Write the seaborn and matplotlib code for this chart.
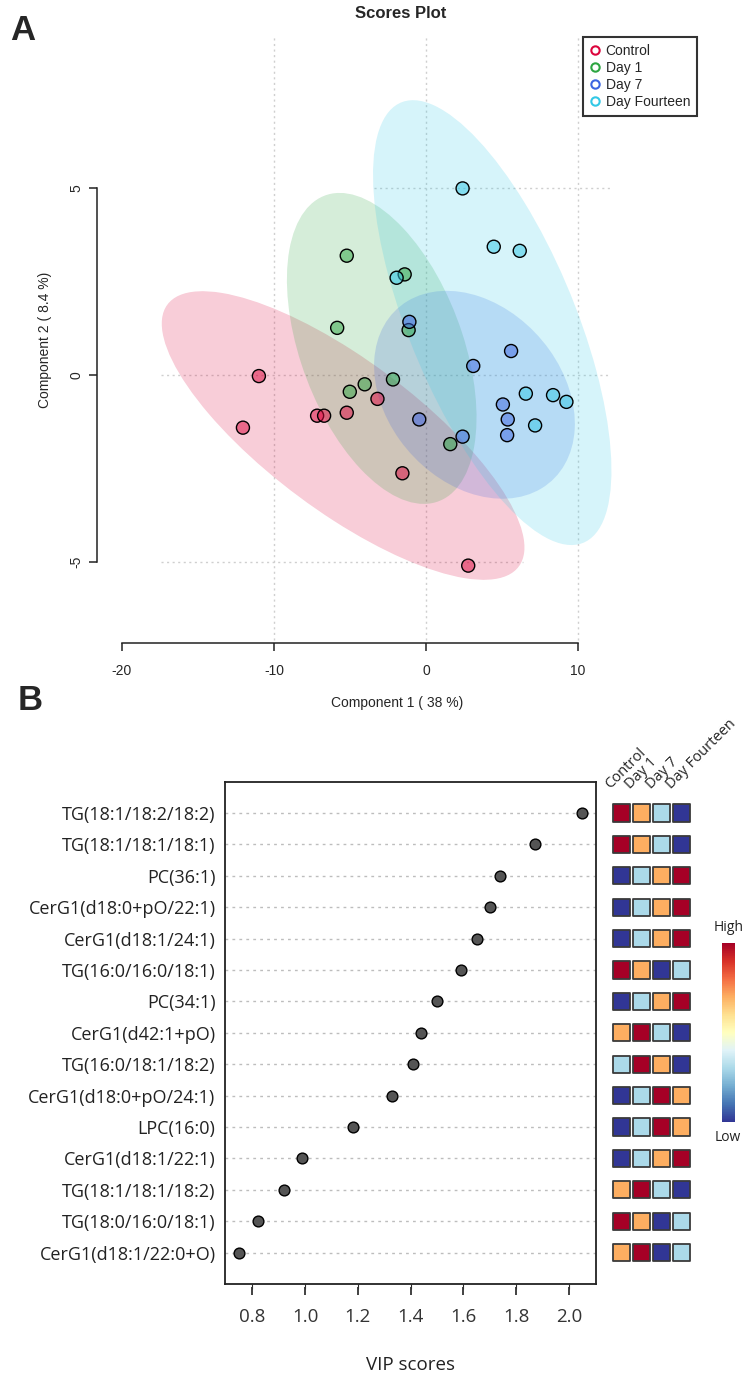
import numpy as np
import pandas as pd
import matplotlib
matplotlib.use("Agg")
import matplotlib.pyplot as plt
import seaborn as sns
from matplotlib.patches import Ellipse
from matplotlib.lines import Line2D
from matplotlib.colors import Normalize
from matplotlib.cm import ScalarMappable

# ---------------- data: panel A (PLS-DA scores) ----------------
groups = ["Control", "Day 1", "Day 7", "Day Fourteen"]
group_colors = ["#DC053C", "#2DA541", "#3C64E1", "#32C8E6"]

control_x = [-10.99, -12.04, -7.16, -6.70, -5.21, -3.19, -1.55, 2.78]
control_y = [-0.03, -1.41, -1.09, -1.09, -1.01, -0.64, -2.63, -5.10]
day1_x = [-5.21, -1.40, -5.84, -1.14, -4.03, -5.01, -2.17, 1.60]
day1_y = [3.19, 2.69, 1.26, 1.20, -0.25, -0.45, -0.12, -1.85]
day7_x = [-1.09, 5.60, 3.11, 5.06, 5.38, -0.44, 5.34, 2.41]
day7_y = [1.42, 0.64, 0.24, -0.79, -1.19, -1.19, -1.61, -1.65]
day14_x = [2.41, 4.46, 6.17, -1.93, 6.57, 8.36, 9.24, 7.18]
day14_y = [4.99, 3.43, 3.32, 2.60, -0.50, -0.54, -0.72, -1.35]

# confidence ellipses: centre and shape matrix [[sxx, sxy], [sxy, syy]]
ell_cx = [-5.45, -2.91, 3.19, 4.36]
ell_cy = [-1.62, 0.71, -0.53, 1.40]
ell_sxx = [142.3, 38.9, 43.6, 61.5]
ell_sxy = [-35.7, -11.5, -5.1, -31.0]
ell_syy = [14.9, 17.3, 7.73, 35.4]

x_ticks_a = [-20, -10, 0, 10]
y_ticks_a = [-5, 0, 5]

# ---------------- data: panel B (VIP scores) ----------------
features = ["TG(18:1/18:2/18:2)", "TG(18:1/18:1/18:1)", "PC(36:1)",
            "CerG1(d18:0+pO/22:1)", "CerG1(d18:1/24:1)", "TG(16:0/16:0/18:1)",
            "PC(34:1)", "CerG1(d42:1+pO)", "TG(16:0/18:1/18:2)",
            "CerG1(d18:0+pO/24:1)", "LPC(16:0)", "CerG1(d18:1/22:1)",
            "TG(18:1/18:1/18:2)", "TG(18:0/16:0/18:1)", "CerG1(d18:1/22:0+O)"]
vip_scores = [2.05, 1.87, 1.74, 1.70, 1.65, 1.59, 1.50, 1.44, 1.41, 1.33,
              1.18, 0.99, 0.92, 0.82, 0.75]
# relative level (4 = High ... 1 = Low) per group
heat_control = [4, 4, 1, 1, 1, 4, 1, 3, 2, 1, 1, 1, 3, 4, 3]
heat_day1 = [3, 3, 2, 2, 2, 3, 2, 4, 4, 2, 2, 2, 4, 3, 4]
heat_day7 = [2, 2, 3, 3, 3, 1, 3, 2, 3, 4, 4, 3, 2, 1, 1]
heat_day14 = [1, 1, 4, 4, 4, 2, 4, 1, 1, 3, 3, 4, 1, 2, 2]
level_colors = {4: "#A50026", 3: "#FDAE61", 2: "#ABD9E9", 1: "#313695"}
vip_ticks = [0.8, 1.0, 1.2, 1.4, 1.6, 1.8, 2.0]

# ---------------- figure ----------------
sns.set_style("white")
plt.rcParams["font.family"] = ["Liberation Sans", "DejaVu Sans"]

W, H = 755, 1384
fig = plt.figure(figsize=(W / 100, H / 100), dpi=100)


def fx(px):
    return px / W


def fy(py):
    return 1 - py / H


SANS_A = ["Liberation Sans", "DejaVu Sans"]
SANS_B = ["Open Sans", "DejaVu Sans"]

# ======== Panel A ========
ax = fig.add_axes([fx(97), fy(643), 600 / W, 606 / H])
ax.set_xlim(-21.64, 17.83)
ax.set_ylim(-7.17, 9.04)

grid_kw = dict(color="#CFCFCF", linestyles=(0, (1.5, 2.5)), linewidth=1.0, zorder=0.5)
ax.vlines([-10, 0, 10], -7.1, 9.04, **grid_kw)
ax.hlines(5, -3.4, 12.2, **grid_kw)
ax.hlines(0, -17.4, 12.2, **grid_kw)
ax.hlines(-5, -17.4, 6.4, **grid_kw)

for cx, cy, sxx, sxy, syy, col in zip(ell_cx, ell_cy, ell_sxx, ell_sxy, ell_syy, group_colors):
    vals, vecs = np.linalg.eigh(np.array([[sxx, sxy], [sxy, syy]]))
    order = np.argsort(vals)[::-1]
    vals, vecs = vals[order], vecs[:, order]
    ang = np.degrees(np.arctan2(vecs[1, 0], vecs[0, 0]))
    ax.add_patch(Ellipse((cx, cy), 2 * np.sqrt(vals[0]), 2 * np.sqrt(vals[1]),
                         angle=ang, facecolor=col, alpha=0.2, edgecolor="none", zorder=1))

scores = pd.DataFrame({
    "Component 1": control_x + day1_x + day7_x + day14_x,
    "Component 2": control_y + day1_y + day7_y + day14_y,
    "Group": np.repeat(groups, [len(control_x), len(day1_x), len(day7_x), len(day14_x)]),
})
fill_palette = {g: c + "80" for g, c in zip(groups, group_colors)}
sns.scatterplot(data=scores, x="Component 1", y="Component 2", hue="Group",
                palette=fill_palette, s=88, edgecolor="black", linewidth=1.0,
                legend=False, ax=ax, zorder=3)

for side in ["top", "right"]:
    ax.spines[side].set_visible(False)
for side in ["left", "bottom"]:
    ax.spines[side].set_color("#222222")
    ax.spines[side].set_linewidth(1.1)
ax.spines["bottom"].set_bounds(-20, 10)
ax.spines["left"].set_bounds(-5, 5)
ax.set_xticks(x_ticks_a)
ax.set_xticklabels([str(v) for v in x_ticks_a], fontsize=10, family=SANS_A)
ax.set_yticks(y_ticks_a)
ax.set_yticklabels([str(v) for v in y_ticks_a], fontsize=10, family=SANS_A,
                   rotation=90, va="center")
ax.tick_params(axis="x", direction="out", length=6, width=1.1, color="#222222", pad=9, bottom=True)
ax.tick_params(axis="y", direction="out", length=6, width=1.1, color="#222222", pad=4, left=True)
ax.set_xlabel("Component 1 ( 38 %)", fontsize=10, family=SANS_A)
ax.set_ylabel("Component 2 ( 8.4 %)", fontsize=10, family=SANS_A)
ax.xaxis.set_label_coords(0.5, (643 - 703) / 606)
ax.xaxis.label.set_va("center")
ax.yaxis.set_label_coords((45 - 97) / 600, 0.5)
ax.yaxis.label.set_va("center")

handles = [Line2D([], [], marker="o", linestyle="", markerfacecolor="none",
                  markeredgecolor=c, markersize=6, markeredgewidth=1.5) for c in group_colors]
leg = ax.legend(handles, groups, loc="upper right", bbox_to_anchor=(1.0, 1.0),
                borderaxespad=0, frameon=True, fancybox=False, edgecolor="black",
                handletextpad=0.4, labelspacing=0.22, handlelength=0.7,
                borderpad=0.5, prop={"family": SANS_A, "size": 10})
leg.get_frame().set_linewidth(1.5)

fig.text(fx(401), fy(13), "Scores Plot", fontsize=12, fontweight="bold",
         family=SANS_A, ha="center", va="center")
fig.text(fx(10), fy(30), "A", fontsize=25, fontweight="bold", family=SANS_A,
         ha="left", va="center")
fig.text(fx(18), fy(700), "B", fontsize=25, fontweight="bold", family=SANS_A,
         ha="left", va="center")

# ======== Panel B: VIP dot chart ========
n = len(features)
pos = list(range(n, 0, -1))
vip_df = pd.DataFrame({"Feature": features, "VIP": vip_scores, "pos": pos})

box_top, box_bot = 781.6, 1284.0
axb = fig.add_axes([fx(225.3), fy(box_bot), (596 - 225.3) / W, (box_bot - box_top) / H])
rng = max(vip_scores) - min(vip_scores)
xlo, xhi = min(vip_scores) - 0.04 * rng, max(vip_scores) + 0.04 * rng
axb.set_xlim(xlo, xhi)
axb.set_ylim(0, n + 1)
axb.set_yticks(pos)
axb.set_yticklabels(features, fontsize=13, family=SANS_B, color="#222222")
axb.tick_params(axis="y", length=0, pad=7)
axb.tick_params(axis="x", bottom=False, labelbottom=False)
axb.grid(axis="y", color="#BDBDBD", linestyle=(0, (2, 3)), linewidth=1.0)
axb.grid(axis="x", visible=False)
sns.scatterplot(data=vip_df, x="VIP", y="pos", color="#555555", edgecolor="black",
                s=60, linewidth=1.0, ax=axb, zorder=3, legend=False)
axb.set_xlabel("")
axb.set_ylabel("")
for s in axb.spines.values():
    s.set_visible(True)
    s.set_color("#222222")
    s.set_linewidth(1.3)

axt = axb.twiny()
axt.set_xlim(xlo, xhi)
axt.xaxis.set_ticks_position("bottom")
axt.xaxis.set_label_position("bottom")
axt.spines["bottom"].set_position(("outward", 2.5))
for s in axt.spines.values():
    s.set_visible(False)
axt.set_xticks(vip_ticks)
axt.set_xticklabels([f"{v:.1f}" for v in vip_ticks], fontsize=13.5, family=SANS_B,
                    color="#333333")
axt.tick_params(axis="x", bottom=True, top=False, labeltop=False, direction="out",
                length=6, width=1.3, color="#333333", pad=9)
axt.set_xlabel("VIP scores", fontsize=13.5, family=SANS_B, color="#222222")
axt.xaxis.set_label_coords(0.5, (box_bot - 1365) / (box_bot - box_top))
axt.xaxis.label.set_va("center")

# ======== Panel B: group heat squares ========
cols = groups
heat_long = pd.DataFrame({
    "col": np.repeat(np.arange(4), n),
    "pos": pos * 4,
    "level": heat_control + heat_day1 + heat_day7 + heat_day14,
})
axh = fig.add_axes([fx(611), fy(box_bot), 81 / W, (box_bot - box_top) / H])
sns.scatterplot(data=heat_long, x="col", y="pos", hue="level", palette=level_colors,
                marker="s", s=150, edgecolor="#3A3A3A", linewidth=1.3, legend=False, ax=axh)
axh.set_xlim(-0.5, 3.5)
axh.set_ylim(0, n + 1)
axh.axis("off")
for j, name in enumerate(cols):
    axh.text(j - 0.4, n + 0.68, name, rotation=45, rotation_mode="anchor",
             ha="left", va="bottom", fontsize=10.5, family=SANS_B, color="#222222")

# ======== colour key ========
cax = fig.add_axes([fx(722), fy(1122), 12.5 / W, (1122 - 943) / H])
cb = fig.colorbar(ScalarMappable(norm=Normalize(0, 1), cmap="RdYlBu_r"), cax=cax)
cb.outline.set_visible(False)
cb.set_ticks([])
cax.text(0.5, 1.0 + 8 / 179, "High", transform=cax.transAxes, ha="center", va="bottom",
         fontsize=10, family=SANS_B, color="#222222")
cax.text(0.5, -8 / 179, "Low", transform=cax.transAxes, ha="center", va="top",
         fontsize=10, family=SANS_B, color="#222222")

fig.savefig("out.png", dpi=100)
